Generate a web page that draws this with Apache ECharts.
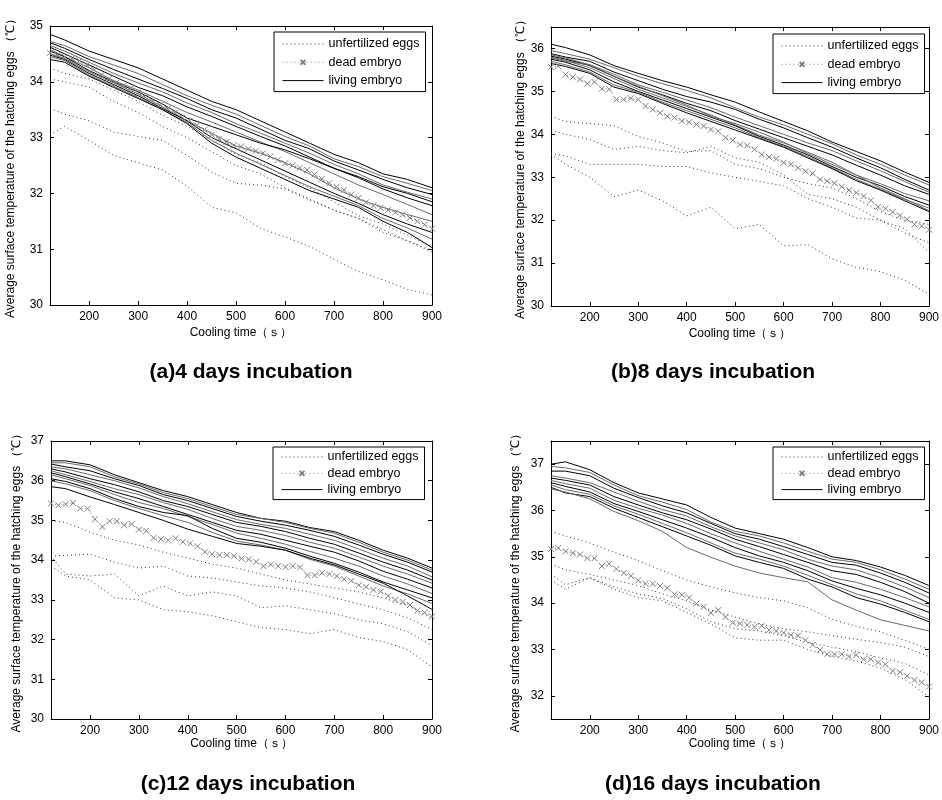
<!DOCTYPE html>
<html><head><meta charset="utf-8">
<script src="https://cdn.jsdelivr.net/npm/echarts@6/dist/echarts.min.js"></script>
<style>html,body{margin:0;padding:0;background:#fff}#c{width:942px;height:800px}</style>
</head><body><div id="c"></div>
<script>
// ---------- data ----------
const TIME = [120,150,200,250,300,350,400,450,500,550,600,650,700,750,800,850,900];
const TIME15 = [120,135,150,165,180,195,210,225,240,255,270,285,300,315,330,345,360,375,390,405,420,435,450,465,480,495,510,525,540,555,570,585,600,615,630,645,660,675,690,705,720,735,750,765,780,795,810,825,840,855,870,885,900];
const X_TICKS = [200,300,400,500,600,700,800,900];

const TITLES = ['(a)4 days incubation','(b)8 days incubation','(c)12 days incubation','(d)16 days incubation'];
const LEGEND_NAMES = ['unfertilized eggs','dead embryo','living embryo'];
const X_NAME = 'Cooling time（ｓ）';
const Y_NAME = 'Average surface temperature of the hatching eggs （℃）';

// (a) 4 days
const aYTicks = [30,31,32,33,34,35];
const aUnfertilized = [
 [34.25,34.15,34.05,33.85,33.65,33.4,33.2,32.95,32.7,32.55,32.3,32.1,31.85,31.6,31.45,31.25,31.05],
 [34.05,34.0,33.9,33.65,33.45,33.2,33.0,32.75,32.5,32.35,32.1,31.9,31.7,31.55,31.3,31.15,30.95],
 [33.52,33.42,33.3,33.1,33.02,32.95,32.68,32.38,32.18,32.15,32.08,31.88,31.7,31.55,31.35,31.15,30.98],
 [33.05,33.2,32.95,32.68,32.55,32.42,32.13,31.75,31.65,31.37,31.22,31.05,30.82,30.6,30.45,30.28,30.18]
];
const aDead = [34.52,34.48,34.45,34.42,34.38,34.30,34.22,34.12,34.05,33.98,33.93,33.88,33.80,33.72,33.65,33.58,33.52,33.45,33.36,33.30,33.22,33.14,33.05,32.98,32.92,32.86,32.84,32.80,32.76,32.72,32.66,32.60,32.54,32.50,32.46,32.42,32.34,32.26,32.18,32.12,32.06,31.98,31.92,31.84,31.78,31.74,31.70,31.66,31.62,31.56,31.50,31.44,31.37];
const aLiving = [
 [34.85,34.75,34.55,34.4,34.25,34.05,33.85,33.65,33.5,33.3,33.1,32.9,32.7,32.55,32.35,32.25,32.1],
 [34.72,34.65,34.45,34.3,34.15,33.95,33.75,33.58,33.42,33.22,33.02,32.85,32.62,32.48,32.3,32.18,32.05],
 [34.7,34.6,34.4,34.22,34.05,33.88,33.7,33.5,33.35,33.15,32.95,32.8,32.58,32.42,32.25,32.1,31.98],
 [34.65,34.55,34.35,34.15,33.98,33.82,33.62,33.45,33.25,33.08,32.9,32.72,32.52,32.35,32.15,32.02,31.9],
 [34.62,34.5,34.3,34.1,33.9,33.75,33.55,33.38,33.2,33.02,32.85,32.65,32.45,32.28,32.08,31.92,31.78],
 [34.58,34.45,34.25,34.02,33.85,33.65,33.45,33.28,33.1,32.92,32.75,32.55,32.35,32.15,31.98,31.8,31.62],
 [34.55,34.45,34.2,34.0,33.82,33.6,33.35,33.2,33.05,32.9,32.78,32.62,32.45,32.3,32.12,32.0,31.85],
 [34.5,34.42,34.18,33.98,33.78,33.55,33.3,33.08,32.85,32.72,32.55,32.35,32.1,31.9,31.75,31.62,31.5],
 [34.48,34.4,34.15,33.95,33.75,33.52,33.3,33.0,32.8,32.6,32.4,32.2,32.0,31.82,31.62,31.45,31.3],
 [34.45,34.38,34.12,33.92,33.72,33.5,33.27,32.95,32.72,32.52,32.32,32.12,31.95,31.78,31.55,31.38,31.18],
 [34.4,34.35,34.1,33.9,33.7,33.5,33.25,32.9,32.65,32.45,32.25,32.05,31.9,31.75,31.5,31.3,31.03]
];

// (b) 8 days
const bYTicks = [30,31,32,33,34,35,36];
const bUnfertilized = [
 [34.42,34.3,34.25,34.2,33.95,33.8,33.6,33.62,33.3,33.2,33.0,32.85,32.75,32.5,32.2,32.0,31.9],
 [34.1,34.0,33.88,33.65,33.72,33.62,33.57,33.72,33.45,33.35,33.05,32.6,32.5,32.3,32.0,31.7,31.47],
 [33.55,33.5,33.3,33.3,33.3,33.25,33.25,33.1,33.0,32.9,32.8,32.5,32.3,32.05,32.0,31.8,31.25],
 [33.53,33.3,33.0,32.55,32.7,32.45,32.1,32.3,31.8,31.9,31.4,31.43,31.1,30.9,30.8,30.6,30.27]
];
const bDead = [35.57,35.59,35.39,35.33,35.28,35.18,35.22,35.06,35.05,34.81,34.81,34.84,34.81,34.66,34.58,34.50,34.42,34.39,34.31,34.28,34.23,34.19,34.11,34.07,33.92,33.86,33.76,33.74,33.65,33.53,33.47,33.43,33.34,33.30,33.22,33.14,33.09,32.95,32.91,32.86,32.78,32.70,32.64,32.56,32.46,32.31,32.27,32.19,32.11,32.02,31.90,31.86,31.78];
const bLiving = [
 [36.1,36.02,35.85,35.6,35.42,35.25,35.1,34.92,34.75,34.52,34.3,34.08,33.82,33.6,33.38,33.12,32.88],
 [35.95,35.88,35.75,35.55,35.35,35.18,35.02,34.85,34.62,34.4,34.22,34.0,33.78,33.52,33.3,33.05,32.82],
 [35.88,35.8,35.7,35.45,35.25,35.05,34.88,34.75,34.58,34.35,34.15,33.92,33.7,33.45,33.22,32.95,32.7],
 [35.85,35.78,35.62,35.4,35.15,34.98,34.8,34.62,34.4,34.2,34.0,33.8,33.62,33.38,33.15,32.9,32.65],
 [35.82,35.75,35.6,35.35,35.1,34.92,34.72,34.55,34.32,34.12,33.92,33.72,33.52,33.28,33.05,32.8,32.6],
 [35.8,35.72,35.55,35.3,35.05,34.85,34.65,34.45,34.22,33.98,33.8,33.58,33.35,33.05,32.85,32.62,32.45],
 [35.75,35.68,35.5,35.22,35.0,34.8,34.6,34.4,34.2,33.95,33.75,33.52,33.25,33.0,32.8,32.55,32.35],
 [35.7,35.62,35.45,35.15,34.98,34.75,34.55,34.35,34.15,33.92,33.72,33.48,33.22,32.95,32.72,32.48,32.28],
 [35.65,35.58,35.42,35.1,34.95,34.72,34.5,34.3,34.1,33.9,33.7,33.45,33.2,32.92,32.7,32.45,32.2],
 [35.78,35.7,35.62,35.35,35.12,34.9,34.68,34.42,34.25,34.05,33.82,33.55,33.3,33.05,32.75,32.5,32.22]
];

// (c) 12 days
const cYTicks = [30,31,32,33,34,35,36,37];
const cUnfertilized = [
 [35.0,34.95,34.7,34.5,34.38,34.2,34.05,33.9,33.8,33.65,33.5,33.4,33.3,33.2,33.05,32.85,32.55],
 [34.1,34.12,34.15,33.95,33.8,33.85,33.6,33.55,33.45,33.35,33.3,33.2,33.05,32.9,32.75,32.55,32.25],
 [34.1,33.65,33.6,33.65,33.1,33.35,33.1,33.2,33.1,32.8,32.85,32.75,32.65,32.5,32.4,32.2,31.85],
 [33.85,33.6,33.5,33.05,33.0,32.75,32.7,32.6,32.45,32.3,32.25,32.15,32.25,32.05,31.95,31.75,31.3]
];
const cDead = [35.43,35.38,35.41,35.44,35.30,35.30,35.03,34.84,34.98,34.98,34.88,34.91,34.77,34.74,34.56,34.53,34.50,34.55,34.46,34.42,34.35,34.21,34.15,34.13,34.13,34.10,34.04,34.02,33.96,33.85,33.89,33.85,33.83,33.85,33.82,33.62,33.62,33.68,33.65,33.60,33.52,33.48,33.37,33.33,33.25,33.21,33.10,33.00,32.95,32.87,32.73,32.68,32.58];
const cLiving = [
 [36.5,36.5,36.4,36.15,35.95,35.75,35.6,35.4,35.2,35.05,34.98,34.82,34.72,34.5,34.25,34.05,33.8],
 [36.45,36.45,36.35,36.1,35.92,35.7,35.55,35.35,35.15,35.05,34.95,34.8,34.68,34.45,34.2,34.0,33.75],
 [36.42,36.35,36.25,36.05,35.88,35.65,35.5,35.3,35.1,34.98,34.88,34.75,34.6,34.38,34.15,33.95,33.7],
 [36.35,36.3,36.15,36.0,35.82,35.6,35.42,35.22,35.02,34.9,34.8,34.65,34.5,34.28,34.05,33.85,33.58],
 [36.3,36.22,36.05,35.9,35.72,35.5,35.35,35.15,34.95,34.85,34.72,34.55,34.4,34.18,33.95,33.75,33.5],
 [36.25,36.15,35.98,35.8,35.65,35.45,35.28,35.05,34.85,34.75,34.62,34.45,34.3,34.08,33.85,33.65,33.42],
 [36.2,36.1,35.92,35.72,35.55,35.35,35.15,34.95,34.75,34.65,34.5,34.35,34.2,33.98,33.72,33.52,33.3],
 [36.15,36.05,35.88,35.65,35.45,35.3,35.1,34.9,34.68,34.55,34.4,34.22,34.05,33.85,33.6,33.4,33.16],
 [36.05,35.98,35.8,35.55,35.35,35.2,35.12,34.8,34.55,34.45,34.3,34.1,33.92,33.7,33.45,33.25,33.05],
 [36.0,35.92,35.75,35.5,35.3,35.12,34.95,34.7,34.48,34.38,34.25,34.02,33.85,33.6,33.35,33.15,32.91],
 [35.85,35.8,35.59,35.4,35.2,35.0,34.78,34.6,34.42,34.35,34.25,34.05,33.88,33.65,33.42,33.1,32.76]
];

// (d) 16 days
const dYTicks = [32,33,34,35,36,37];
const dUnfertilized = [
 [35.55,35.45,35.3,35.1,34.92,34.7,34.5,34.35,34.22,34.12,34.05,33.9,33.65,33.5,33.38,33.2,33.0],
 [34.85,34.72,34.62,34.5,34.38,34.2,34.05,33.85,33.7,33.55,33.45,33.38,33.3,33.22,33.15,33.05,32.85],
 [34.62,34.4,34.55,34.35,34.2,34.1,33.88,33.6,33.45,33.4,33.3,33.15,33.05,32.95,32.82,32.7,32.45],
 [34.5,34.3,34.55,34.3,34.12,34.05,33.8,33.55,33.25,33.2,33.2,33.0,32.85,32.75,32.6,32.35,31.98]
];
const dDead = [35.17,35.19,35.12,35.08,35.05,34.97,34.97,34.80,34.85,34.74,34.65,34.59,34.49,34.42,34.42,34.37,34.33,34.19,34.18,34.12,33.99,33.92,33.79,33.85,33.70,33.58,33.56,33.53,33.49,33.51,33.42,33.40,33.36,33.31,33.30,33.20,33.10,32.99,32.90,32.90,32.90,32.85,32.88,32.79,32.79,32.72,32.68,32.54,32.51,32.43,32.34,32.29,32.20];
const dLiving = [
 [37.0,37.05,36.88,36.6,36.38,36.25,36.12,35.85,35.62,35.5,35.38,35.2,35.0,34.92,34.78,34.6,34.38],
 [36.95,36.92,36.82,36.55,36.32,36.18,36.02,35.75,35.55,35.45,35.3,35.12,34.95,34.88,34.72,34.52,34.3],
 [36.85,36.85,36.75,36.48,36.28,36.1,35.95,35.72,35.5,35.38,35.22,35.05,34.88,34.82,34.65,34.45,34.22],
 [36.75,36.7,36.6,36.4,36.2,36.02,35.88,35.65,35.45,35.3,35.15,34.95,34.8,34.72,34.55,34.35,34.12],
 [36.7,36.65,36.55,36.3,36.12,35.95,35.8,35.6,35.38,35.22,35.05,34.88,34.7,34.62,34.45,34.25,34.0],
 [36.65,36.58,36.48,36.22,36.05,35.9,35.72,35.5,35.3,35.12,34.95,34.78,34.55,34.45,34.3,34.12,33.92],
 [36.6,36.52,36.4,36.15,35.98,35.8,35.62,35.42,35.2,35.02,34.88,34.7,34.48,34.32,34.18,34.0,33.8],
 [36.55,36.45,36.35,36.1,35.92,35.72,35.52,35.3,35.08,34.95,34.8,34.6,34.4,34.2,34.05,33.85,33.65],
 [36.5,36.38,36.3,36.05,35.85,35.65,35.45,35.25,35.02,34.88,34.75,34.52,34.35,34.12,33.98,33.8,33.6],
 [36.46,36.4,36.25,35.98,35.78,35.55,35.2,34.99,34.8,34.65,34.55,34.46,34.07,33.85,33.64,33.52,33.4]
];

// ---------- layout / style ----------
const FONT = 'Arial, "Liberation Sans", sans-serif';
const panels = [
  {unf:aUnfertilized, dead:aDead, liv:aLiving, yt:aYTicks, ymin:30, ymax:35,
   grid:{left:50, top:26, width:382, height:279}, yGap:33, xGap:22,
   legend:{left:274, top:32, padding:[5,6,4,8], itemGap:4.3}, title:[251,372]},
  {unf:bUnfertilized, dead:bDead, liv:bLiving, yt:bYTicks, ymin:30, ymax:36.5,
   grid:{left:551, top:27, width:380, height:279}, yGap:22, xGap:22,
   legend:{left:773, top:34, padding:[5,6,4,8], itemGap:4.3}, title:[713,372]},
  {unf:cUnfertilized, dead:cDead, liv:cLiving, yt:cYTicks, ymin:30, ymax:37,
   grid:{left:51, top:441, width:381, height:278}, yGap:28, xGap:18,
   legend:{left:273, top:447, padding:[3,6,3,8], itemGap:2.3}, title:[248,784]},
  {unf:dUnfertilized, dead:dDead, liv:dLiving, yt:dYTicks, ymin:31.5, ymax:37.5,
   grid:{left:551, top:441, width:381, height:278}, yGap:29, xGap:18,
   legend:{left:773, top:447, padding:[3,6,3,8], itemGap:2.3}, title:[713,784]}
];

const hidden = {color:'rgba(0,0,0,0)', borderColor:'rgba(0,0,0,0)', borderWidth:0};
const grids=[], xAxes=[], yAxes=[], series=[], legends=[], graphics=[];
const axisLine = {show:true, onZero:false, lineStyle:{color:'#000', width:1}};
panels.forEach((p,i)=>{
  grids.push(Object.assign({containLabel:false}, p.grid));
  const xi = i*2;
  xAxes.push({type:'value', gridIndex:i, min:120, max:900, position:'bottom',
    axisLine, splitLine:{show:false},
    axisTick:{inside:true, length:4, lineStyle:{color:'#000'}, customValues:X_TICKS},
    axisLabel:{color:'#000', fontSize:12, fontFamily:FONT, margin:6, customValues:X_TICKS},
    name:X_NAME, nameLocation:'middle', nameGap:p.xGap, nameTextStyle:{color:'#000', fontSize:12, fontFamily:FONT}});
  xAxes.push({type:'value', gridIndex:i, min:120, max:900, position:'top',
    axisLine, splitLine:{show:false},
    axisTick:{inside:true, length:4, lineStyle:{color:'#000'}, customValues:X_TICKS},
    axisLabel:{show:false}});
  yAxes.push({type:'value', gridIndex:i, min:p.ymin, max:p.ymax, position:'left',
    axisLine, splitLine:{show:false},
    axisTick:{inside:true, length:4, lineStyle:{color:'#000'}, customValues:p.yt},
    axisLabel:{color:'#000', fontSize:12, fontFamily:FONT, margin:7, customValues:p.yt},
    name:Y_NAME, nameLocation:'middle', nameGap:p.yGap, nameRotate:90,
    nameTextStyle:{color:'#000', fontSize:12, fontFamily:FONT}});
  yAxes.push({type:'value', gridIndex:i, min:p.ymin, max:p.ymax, position:'right',
    axisLine, splitLine:{show:false},
    axisTick:{inside:true, length:4, lineStyle:{color:'#000'}, customValues:p.yt},
    axisLabel:{show:false}});

  p.unf.forEach(arr=>{
    series.push({type:'line', name:LEGEND_NAMES[0], xAxisIndex:xi, yAxisIndex:xi,
      symbol:'none', silent:true, animation:false, z:2,
      lineStyle:{color:'#333', width:1, type:[1,3]}, itemStyle:{color:'#333'},
      data:TIME.map((t,k)=>[t,arr[k]])});
  });
  p.liv.forEach((arr,j)=>{
    const col = j%2===0 ? '#000' : '#6a6a6a';
    series.push({type:'line', name:LEGEND_NAMES[2], xAxisIndex:xi, yAxisIndex:xi,
      symbol:'none', silent:true, animation:false, z:3,
      lineStyle:{color:col, width:1}, itemStyle:{color:col},
      data:TIME.map((t,k)=>[t,arr[k]])});
  });
  series.push({type:'line', name:LEGEND_NAMES[1], xAxisIndex:xi, yAxisIndex:xi,
    symbol:'path://M0,0L10,10M10,0L0,10', symbolSize:6, showSymbol:true, silent:true, animation:false, z:4,
    lineStyle:{color:'#808080', width:1, type:[1,3]},
    itemStyle:{color:'#808080', borderColor:'#808080', borderWidth:1},
    data:TIME15.map((t,k)=>[t,p.dead[k]])});

  legends.push(Object.assign({orient:'vertical', itemWidth:41, itemHeight:6, selectedMode:false,
    borderColor:'#000', borderWidth:1, backgroundColor:'#fff', borderRadius:0,
    lineStyle:{width:1},
    textStyle:{color:'#000', fontSize:12.5, lineHeight:14, fontFamily:FONT},
    data:[{name:LEGEND_NAMES[0], itemStyle:hidden}, {name:LEGEND_NAMES[1]}, {name:LEGEND_NAMES[2], itemStyle:hidden}]}, p.legend));

  graphics.push({type:'text', x:p.title[0], y:p.title[1], silent:true,
    style:{text:TITLES[i], fill:'#000', font:'bold 21px ' + FONT, textAlign:'center', textVerticalAlign:'middle'}});
});

const chart = echarts.init(document.getElementById('c'), null, {renderer:'canvas'});
chart.setOption({
  backgroundColor:'#fff', animation:false,
  grid:grids, xAxis:xAxes, yAxis:yAxes, series, legend:legends, graphic:graphics
});
</script></body></html>
